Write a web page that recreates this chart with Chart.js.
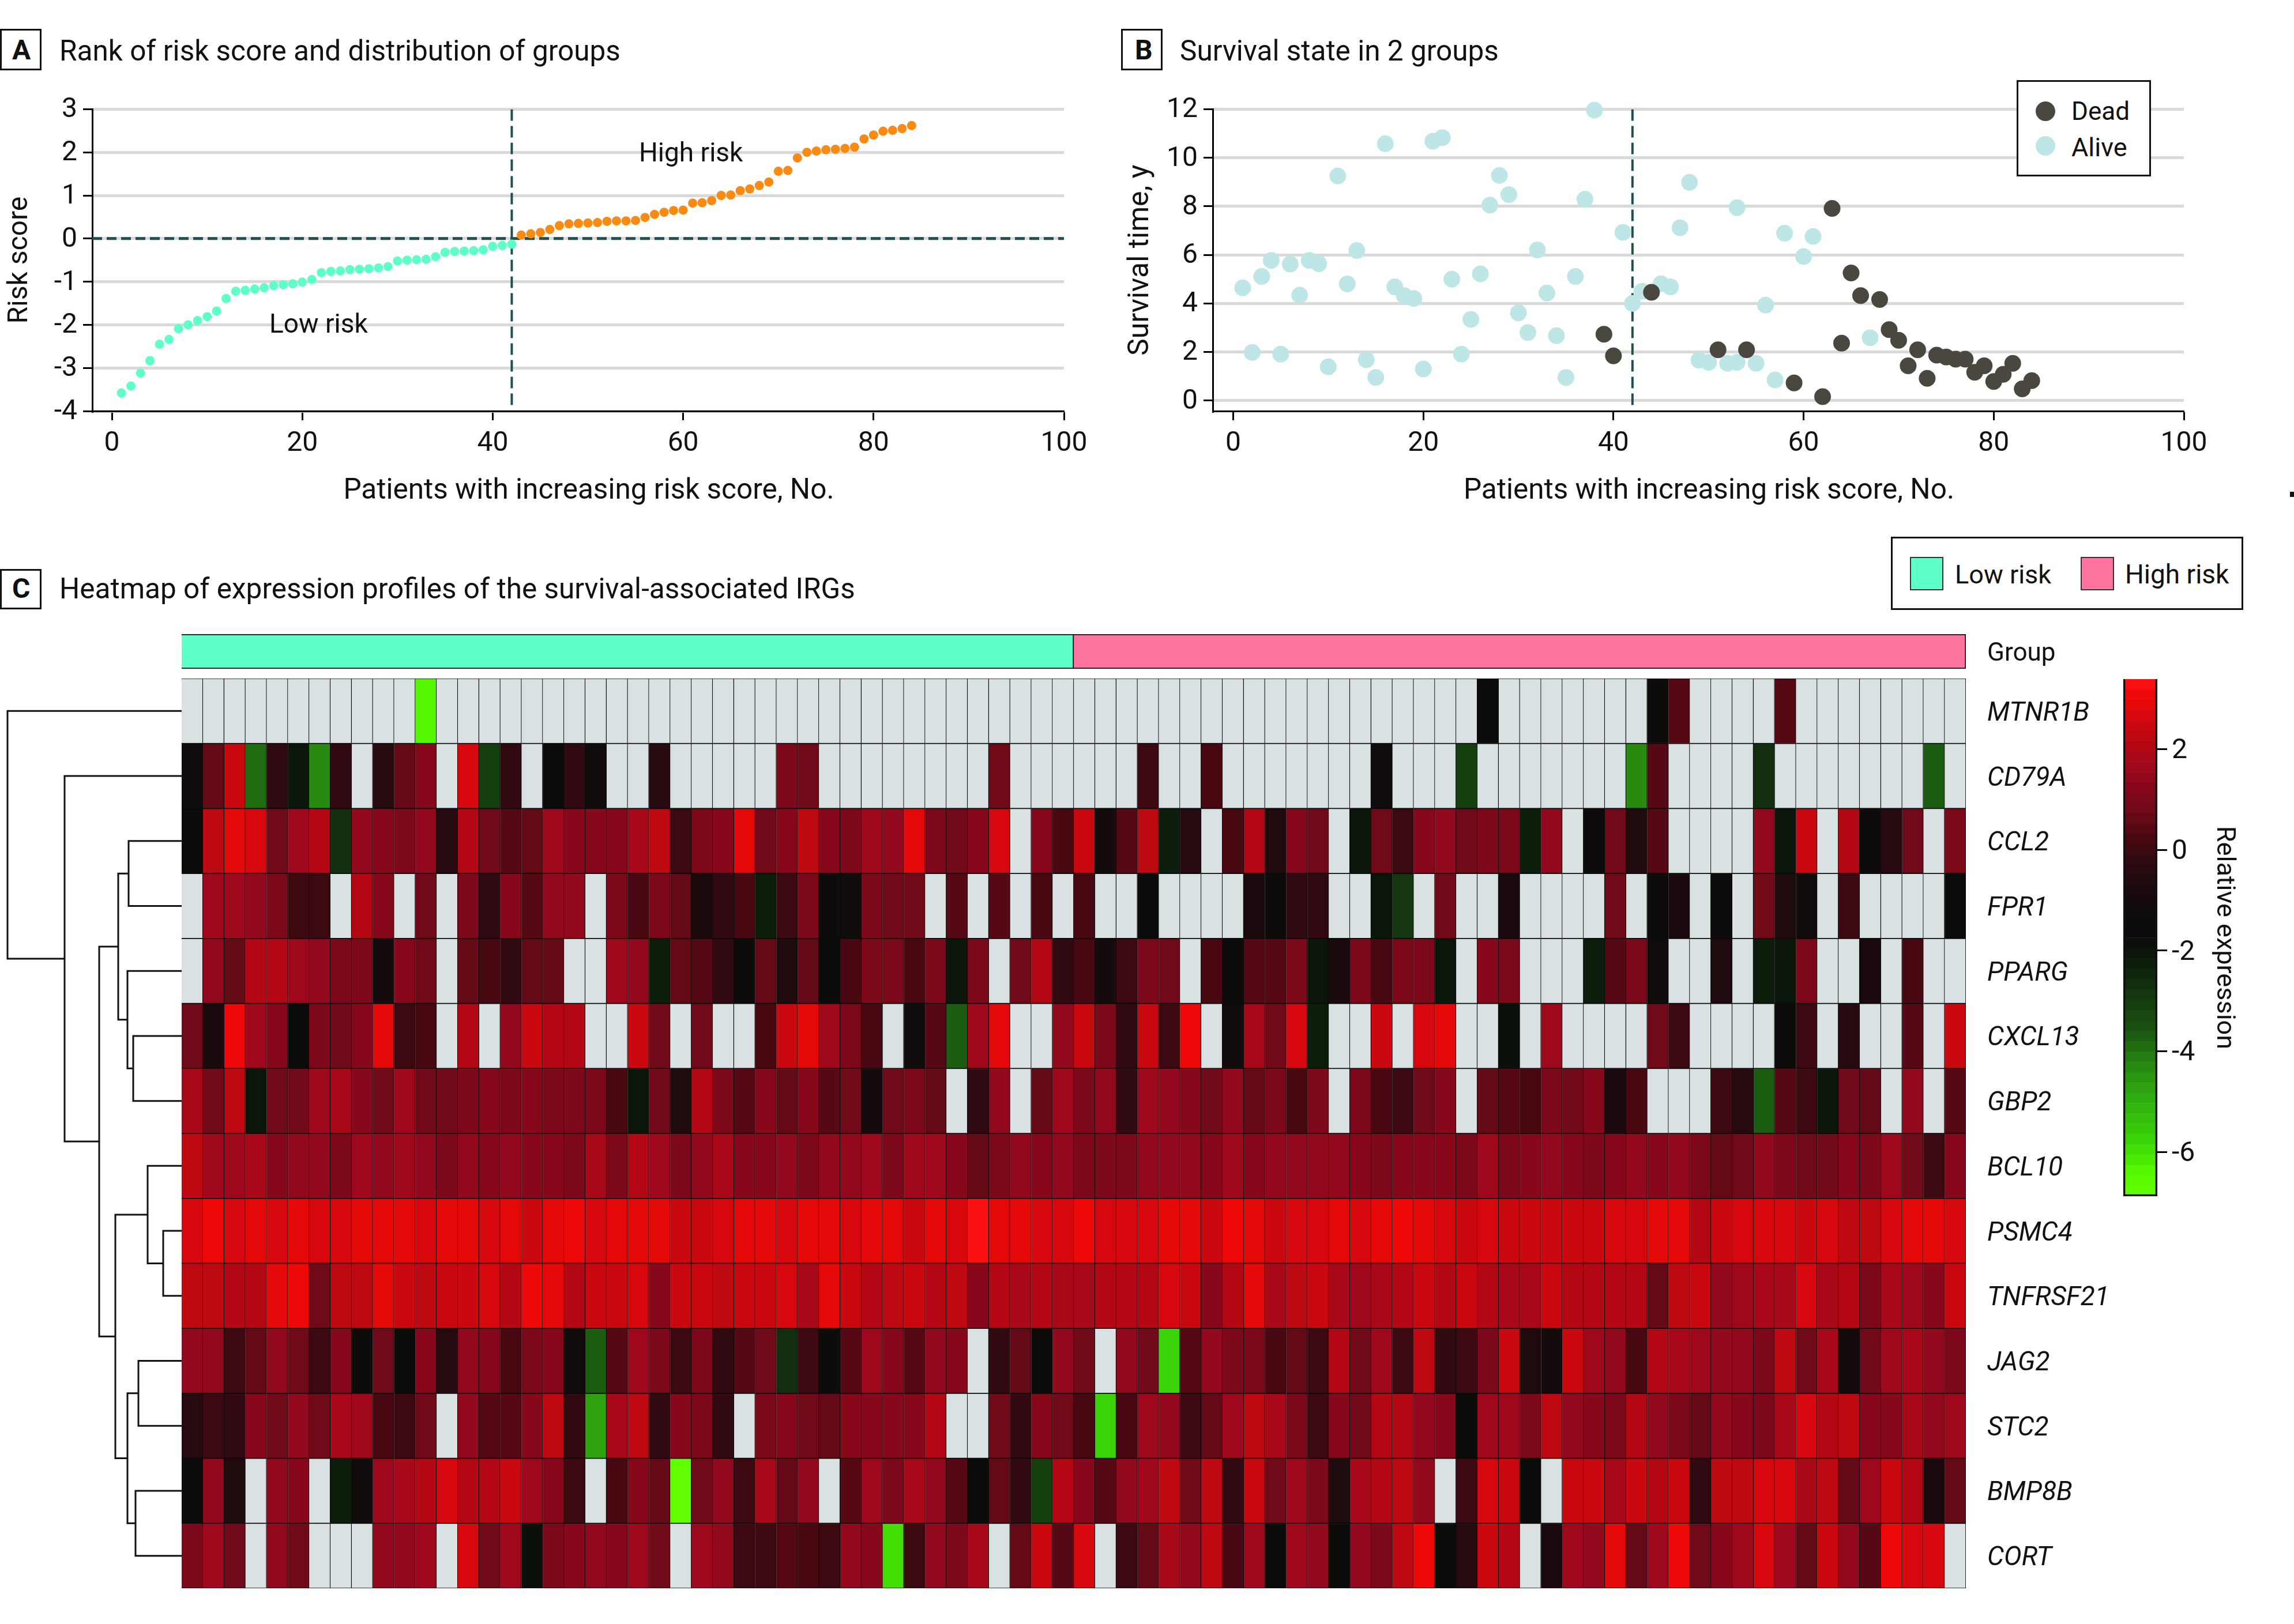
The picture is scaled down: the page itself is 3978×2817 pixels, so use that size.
<!DOCTYPE html>
<html><head><meta charset="utf-8">
<script src="https://cdn.jsdelivr.net/npm/chart.js@4"></script>
<style>
html,body{margin:0;padding:0;background:#fff}
#page{position:relative;width:3978px;height:2817px;overflow:hidden;background:#fff}
canvas{position:absolute}
.t{position:absolute;white-space:nowrap;color:#111;transform:translateY(-50%);line-height:1}
.box{position:absolute;border:3px solid #111;box-sizing:border-box;background:#fff}
</style></head><body><div id="page"></div>
<script>
const N=null;
const riskScores=[-3.58,-3.42,-3.12,-2.83,-2.45,-2.34,-2.09,-2.0,-1.9,-1.81,-1.68,-1.39,-1.22,-1.2,-1.17,-1.14,-1.09,-1.07,-1.05,-1.01,-0.95,-0.79,-0.76,-0.75,-0.72,-0.71,-0.7,-0.68,-0.65,-0.52,-0.5,-0.49,-0.48,-0.42,-0.32,-0.3,-0.29,-0.28,-0.26,-0.18,-0.16,-0.13,0.08,0.11,0.14,0.21,0.3,0.34,0.35,0.36,0.37,0.4,0.41,0.41,0.42,0.49,0.56,0.61,0.65,0.66,0.82,0.83,0.88,1.0,1.01,1.11,1.15,1.23,1.31,1.56,1.58,1.87,2.0,2.03,2.06,2.07,2.09,2.12,2.31,2.4,2.49,2.51,2.55,2.62];
const lowCount=42;
const aliveIdx=[1,2,3,4,5,6,7,8,9,10,11,12,13,14,15,16,17,18,19,20,21,22,23,24,25,26,27,28,29,30,31,32,33,34,35,36,37,38,41,42,43,45,46,47,48,49,50,52,53,53,55,56,57,58,60,61,67];
const aliveYears=[4.64,1.98,5.11,5.77,1.91,5.62,4.34,5.77,5.63,1.39,9.25,4.8,6.18,1.68,0.95,10.58,4.68,4.32,4.2,1.3,10.68,10.83,5.0,1.91,3.34,5.22,8.05,9.27,8.48,3.61,2.8,6.2,4.43,2.67,0.95,5.11,8.29,11.96,6.93,4.0,4.5,4.81,4.68,7.12,8.99,1.66,1.57,1.53,7.94,1.57,1.53,3.93,0.85,6.89,5.93,6.76,2.59];
const deadIdx=[39,40,44,51,54,59,62,63,64,65,66,68,69,70,71,72,73,74,75,76,77,78,79,80,81,82,83,84];
const deadYears=[2.73,1.84,4.46,2.09,2.09,0.72,0.16,7.91,2.36,5.25,4.32,4.16,2.92,2.48,1.43,2.09,0.91,1.87,1.79,1.7,1.7,1.16,1.43,0.78,1.08,1.53,0.48,0.82];
const cutoffPatient=42;
const xAxisTicks=[0,20,40,60,80,100];
const genes=['MTNR1B','CD79A','CCL2','FPR1','PPARG','CXCL13','GBP2','BCL10','PSMC4','TNFRSF21','JAG2','STC2','BMP8B','CORT'];
const MTNR1B=[N,N,N,N,N,N,N,N,N,N,
N,-6.4,N,N,N,N,N,N,N,N,
N,N,N,N,N,N,N,N,N,N,
N,N,N,N,N,N,N,N,N,N,
N,N,N,N,N,N,N,N,N,N,
N,N,N,N,N,N,N,N,N,N,
N,-1.6,N,N,N,N,N,N,N,-1.5,
0.4,N,N,N,N,0.4,N,N,N,N,
N,N,N,N];
const CD79A=[-1.3,0.7,2.4,-3.9,-0.2,-2.0,-4.4,-0.2,N,-0.5,
0.6,1.3,N,2.6,-3.1,-0.2,N,-1.6,-0.3,-1.3,
N,N,-0.5,N,N,N,N,N,1.1,0.8,
N,N,N,N,N,N,N,N,0.85,N,
N,N,N,N,N,-0.1,N,N,0.3,N,
N,N,N,N,N,N,-1.3,N,N,N,
-3.1,N,N,N,N,N,N,N,-4.4,0.5,
N,N,N,N,-2.6,N,N,N,N,N,
N,N,-3.6,N];
const CCL2=[-1.6,2.3,2.8,2.6,0.9,1.7,2.0,-2.7,1.4,1.2,
1.1,1.4,-0.5,2.0,0.8,0.4,0.7,1.7,1.2,1.3,
1.2,1.8,2.3,0.1,1.1,1.2,2.8,0.9,1.3,2.3,
1.3,1.1,1.7,1.5,2.8,1.1,0.9,1.2,2.6,N,
1.2,0.3,2.4,-1.0,0.4,2.3,-2.3,-0.5,N,0.3,
2.1,-0.7,1.2,0.8,N,-2.0,0.8,0.1,1.2,1.5,
0.8,1.0,1.0,-2.2,1.5,N,-1.5,0.8,-0.6,0.5,
N,N,N,N,1.4,-2.0,2.4,N,2.0,-1.5,
-0.5,0.8,N,1.0];
const FPR1=[N,1.6,1.7,1.5,1.0,0.1,0.1,N,2.0,1.3,
N,0.8,N,1.1,-0.2,1.2,0.4,1.5,1.5,N,
1.1,0.3,1.0,0.7,-0.8,-0.2,0.3,-2.3,0.1,1.1,
-1.5,-1.3,1.1,0.8,0.8,N,0.4,N,0.5,N,
0.3,N,0.3,N,N,-1.7,N,N,N,N,
-0.8,-1.5,-0.3,-0.3,N,N,-2.0,-2.8,N,0.8,
N,N,-0.9,N,N,N,N,0.8,N,-1.5,
-0.8,N,-1.6,N,0.8,-0.6,-1.3,N,0.1,N,
N,N,N,-1.6];
const PPARG=[N,1.4,0.7,2.0,2.0,1.6,1.4,1.1,1.0,-1.0,
1.3,0.9,N,0.7,0.3,-0.3,0.7,0.7,N,N,
1.6,1.4,-2.3,0.7,0.5,-0.3,-1.4,0.7,-0.6,0.7,
-1.7,0.3,1.1,1.0,0.2,1.0,-2.0,1.0,N,0.8,
2.0,-0.2,0.3,-1.0,-0.1,1.0,0.8,N,0.3,-1.5,
0.4,0.5,1.0,-2.0,-0.8,1.0,0.3,1.0,1.0,-2.0,
N,1.2,1.1,N,N,N,-2.2,0.5,1.0,-1.2,
N,N,-0.7,N,-2.2,-2.1,1.0,N,N,-0.9,
N,0.3,N,N];
const CXCL13=[0.9,-0.8,3.0,1.7,1.2,-1.6,1.0,0.9,1.2,2.8,
0.1,0.2,N,2.1,N,1.5,2.4,2.0,2.0,N,
N,2.4,0.8,N,0.8,N,N,0.3,2.4,2.8,
1.7,1.0,0.2,N,-1.2,0.5,-3.7,1.7,2.8,N,
N,1.4,2.4,1.0,-0.2,2.4,-0.1,3.1,N,-1.3,
1.8,0.9,2.6,-2.3,N,N,2.4,N,2.6,2.8,
N,N,-1.9,N,1.7,N,N,N,N,0.9,
0.1,N,N,N,N,-1.5,0.1,N,-0.5,N,
N,0.5,N,2.4];
const GBP2=[1.9,0.9,2.3,-2.0,0.8,0.8,1.7,1.9,1.3,0.9,
1.6,0.9,0.9,1.1,1.2,1.1,1.2,1.0,1.0,1.0,
0.3,-2.0,0.8,-0.6,2.0,1.0,0.5,1.2,0.6,1.2,
0.5,0.8,-1.1,0.8,1.1,0.6,N,-0.3,1.4,N,
0.7,1.7,1.1,1.4,-0.2,1.7,1.4,1.3,0.9,1.4,
0.7,1.0,0.3,1.0,N,1.1,0.3,0.1,0.9,1.3,
N,0.7,0.4,0.3,1.0,0.8,1.3,-0.9,0.3,N,
N,N,0.1,-0.4,-3.7,0.4,0.1,-2.0,0.8,0.6,
N,1.5,N,0.4];
const BCL10=[2.3,1.6,1.7,1.9,1.3,1.5,1.5,1.0,1.7,1.5,
1.7,1.5,1.1,1.5,1.2,1.4,1.2,1.2,1.1,1.9,
1.0,2.0,1.6,1.0,1.5,1.9,1.2,1.3,1.5,1.1,
1.5,1.4,1.6,1.1,1.6,1.7,1.2,0.6,1.1,1.4,
1.3,1.4,1.1,1.0,1.1,1.4,1.5,1.4,1.2,1.7,
1.3,1.4,1.5,1.4,1.5,1.2,1.0,1.2,1.2,1.2,
1.0,1.7,1.1,1.3,1.5,1.3,1.1,1.3,1.5,1.3,
1.4,1.1,0.6,0.9,1.4,1.1,0.9,0.9,1.2,1.1,
1.7,0.8,0.1,1.2];
const PSMC4=[2.6,3.1,2.6,2.8,2.6,2.8,2.6,2.6,2.8,2.8,
2.8,2.7,2.8,2.8,2.6,2.8,2.4,2.8,3.1,2.6,
2.8,2.9,2.9,2.4,2.4,2.6,2.8,2.8,2.6,2.8,
2.8,2.6,2.8,2.8,2.4,2.8,2.7,3.3,2.9,2.9,
2.6,2.7,3.1,2.6,2.6,2.6,2.8,2.8,2.4,3.1,
2.8,2.4,2.6,2.6,2.8,2.6,2.8,3.1,2.8,2.6,
2.4,2.6,2.4,2.4,2.5,2.4,2.4,2.6,2.6,2.9,
2.9,2.1,2.4,2.6,2.6,2.6,2.4,2.6,2.3,2.2,
2.6,2.9,2.9,2.6];
const TNFRSF21=[2.3,2.3,2.1,2.1,2.8,3.1,0.9,2.3,2.3,2.8,
2.4,2.3,2.5,2.4,2.6,2.0,3.1,2.8,2.0,2.4,
2.5,2.6,1.3,2.5,2.4,2.3,2.4,2.4,2.6,1.9,
2.8,2.5,2.1,2.3,2.4,2.1,2.3,1.2,2.0,1.8,
2.0,1.8,1.8,2.0,2.0,2.0,2.6,2.5,1.3,2.0,
2.8,1.9,2.3,2.4,1.8,1.7,1.8,2.0,2.4,2.1,
2.4,2.0,1.8,1.8,2.5,2.0,2.1,2.0,2.1,0.7,
2.2,2.4,1.4,1.7,1.8,1.9,2.6,1.8,2.1,1.1,
1.9,1.7,1.2,2.4];
const JAG2=[1.5,1.4,0.1,0.6,1.5,0.9,0.1,1.2,-1.4,0.8,
-1.6,1.2,-0.4,1.5,1.2,0.3,1.0,1.2,-1.3,-3.7,
0.4,1.7,1.0,0.1,1.0,-0.3,0.4,0.8,-2.7,0.0,
-1.5,0.4,1.7,1.2,0.5,1.4,1.3,N,-0.3,0.6,
-1.4,1.4,0.8,N,1.5,0.9,-5.7,0.4,1.4,1.1,
1.0,0.2,0.6,0.1,2.0,0.8,1.7,0.0,2.3,-0.2,
0.1,1.1,2.4,-0.6,-1.1,2.5,1.6,1.5,0.2,2.0,
1.9,1.7,1.4,1.4,1.1,2.3,0.9,1.8,-1.1,0.8,
1.7,1.9,1.4,1.0];
const STC2=[-0.4,0.0,-0.2,1.2,0.9,1.4,0.9,1.9,1.6,0.2,
0.0,0.8,N,1.5,0.4,0.4,1.3,2.3,-0.3,-4.7,
1.9,2.2,-0.3,1.3,1.0,-0.2,N,1.0,1.2,0.9,
0.7,1.2,1.2,1.2,1.2,2.0,N,N,0.9,-0.3,
1.3,0.9,0.3,-5.7,0.3,1.7,1.4,0.0,0.7,1.7,
2.3,1.8,1.0,0.1,1.2,0.8,2.0,2.1,1.4,1.3,
-1.7,1.7,1.7,1.1,2.3,1.4,1.2,1.1,2.0,1.4,
1.1,0.7,1.4,1.3,1.1,1.9,2.6,2.0,2.2,1.3,
1.2,1.9,1.5,1.7];
const BMP8B=[-1.5,1.5,-0.6,N,1.5,1.2,N,-2.3,-1.2,1.7,
1.9,2.0,2.6,2.1,2.1,2.4,1.7,1.2,0.0,N,
0.3,1.2,0.7,-6.8,0.9,1.5,0.1,1.8,0.7,1.5,
N,0.4,1.7,1.0,1.9,1.4,0.5,-1.7,0.6,-0.3,
-3.1,2.0,1.2,0.5,1.4,1.7,2.3,0.9,2.3,-0.2,
2.4,0.9,1.7,1.1,-0.6,1.9,2.0,2.3,1.5,N,
0.0,2.6,2.4,-1.7,N,2.5,2.5,1.9,2.5,2.0,
2.5,-0.2,2.3,2.3,2.7,2.6,1.8,2.3,0.7,1.7,
2.5,2.0,-0.8,0.7];
const CORT=[1.1,1.7,0.9,N,1.5,0.9,N,N,N,1.5,
1.5,1.7,N,2.6,0.9,1.7,-1.9,1.1,1.2,1.5,
1.2,1.7,0.9,N,1.7,1.5,0.0,0.1,0.4,0.2,
0.0,1.4,1.2,-5.9,0.1,1.4,1.1,1.9,N,0.6,
2.4,0.4,2.6,N,0.0,0.6,1.9,1.5,2.3,0.2,
1.7,-1.7,1.7,1.4,-1.4,1.4,1.0,2.3,3.1,-1.7,
-0.5,2.4,2.1,N,-0.8,1.7,1.5,2.8,0.7,1.7,
3.1,0.9,1.2,1.7,2.7,1.7,0.7,2.4,1.5,0.4,
3.1,2.7,2.6,N];
const expression=[MTNR1B,CD79A,CCL2,FPR1,PPARG,CXCL13,GBP2,BCL10,PSMC4,TNFRSF21,JAG2,STC2,BMP8B,CORT];
// clustering: children (negative = leaf row, positive = earlier merge) and height
const mergeA=[-9,-6,-3,-13,-11,-8,-5,5,3,6,9,-2,-1];
const mergeB=[-10,-7,-4,-14,-12,1,2,4,7,8,10,11,12];
const mergeH=[32,84,92,80,75,59,94,94,110,115,143,203,302];
const colorMin=-6.88, colorMax=3.39, colorSteps=50;
const colorTicks=[2,0,-2,-4,-6];
const stopV=[-6.88,-6.4,-5.7,-5.0,-4.4,-4.0,-3.6,-2.8,-2.2,-1.7,-1.3,-0.9,-0.5,-0.2,0.2,0.5,0.8,1.1,1.4,1.7,2.0,2.3,2.6,2.8,3.1,3.39];
const stopC=['#66ff00','#55f800','#38d008','#30b010','#2a9010','#227410','#1a5410','#143410','#0c1a0c','#0a0c0a','#100c0c','#180a0e','#220a0e','#300a10','#480812','#5c0a16','#700a18','#80081a','#90081c','#a2081c','#b00814','#c00812','#d0080f','#e00808','#f00808','#ff1414'];

const FONT='Roboto';
const TEXT='#111';
const NA_COLOR='#d9e1e3', LOW='#5fffc8', HIGH='#ff739f', LOW_PT='#5fffc8', HIGH_PT='#f98a13', DEAD='#4a473f', ALIVE='#bfe6e6', DASH='#1f4f52', GRID='#d9d9d9';
Chart.defaults.animation=false;
Chart.defaults.responsive=false;
Chart.defaults.font.family=FONT;
Chart.defaults.color=TEXT;
Chart.defaults.plugins.legend.display=false;
Chart.defaults.plugins.tooltip.enabled=false;
const page=document.getElementById('page');
function mount(l,t,w,h){const c=document.createElement('canvas');c.width=w;c.height=h;c.style.left=l+'px';c.style.top=t+'px';c.style.width=w+'px';c.style.height=h+'px';page.appendChild(c);return c.getContext('2d');}
function txt(s,x,y,size,o={}){const d=document.createElement('div');d.className='t';d.textContent=s;d.style.left=x+'px';d.style.top=y+'px';d.style.fontSize=size+'px';d.style.fontFamily=FONT;Object.assign(d.style,o);page.appendChild(d);return d;}
function box(l,t,w,h,o={}){const d=document.createElement('div');d.className='box';d.style.left=l+'px';d.style.top=t+'px';d.style.width=w+'px';d.style.height=h+'px';Object.assign(d.style,o);page.appendChild(d);return d;}
function hex(c){return [1,3,5].map(i=>parseInt(c.substr(i,2),16));}
function valueColor(v){
  if(v===null) return NA_COLOR;
  const step=(colorMax-colorMin)/colorSteps;
  const k=Math.min(colorSteps-1,Math.max(0,Math.floor((v-colorMin)/step)));
  const m=colorMin+(k+0.5)*step;
  let i=0; while(i<stopV.length-2&&m>stopV[i+1]) i++;
  const f=Math.min(1,Math.max(0,(m-stopV[i])/(stopV[i+1]-stopV[i])));
  const a=hex(stopC[i]),b=hex(stopC[i+1]);
  return 'rgb('+a.map((q,j)=>Math.round(q+(b[j]-q)*f)).join(',')+')';
}
const fitRight=w=>s=>{s.width=w;s.paddingTop=0;s.paddingBottom=0;};
const tickFont={size:48,family:FONT}, titleFont={size:49.5,family:FONT};
function xScale(minX,title,h){return {type:'linear',min:minX,max:100,afterFit:s=>{s.height=h},
  afterBuildTicks:s=>{s.ticks=xAxisTicks.map(v=>({value:v}))},
  border:{color:'#000',width:3},grid:{drawOnChartArea:false,tickColor:'#000',tickWidth:3,tickLength:16},
  ticks:{font:tickFont,padding:12,maxRotation:0,autoSkip:false},
  title:{display:true,text:title,font:titleFont,padding:{top:0,bottom:18}}};}
function yScale(minY,maxY,step,title,w,titlePad,titleSize){const vals=[];for(let v=maxY;v>=Math.ceil(minY);v-=step)vals.push(v);
  return {type:'linear',min:minY,max:maxY,afterFit:s=>{s.width=w},afterBuildTicks:s=>{s.ticks=vals.slice().reverse().map(v=>({value:v}))},
  border:{color:'#000',width:3},grid:{color:GRID,lineWidth:5,tickColor:'#000',tickWidth:3,tickLength:16},
  ticks:{font:tickFont,padding:10,autoSkip:false,labelOffset:2},
  title:{display:true,text:title,font:{size:titleSize,family:FONT},padding:{top:titlePad,bottom:0}}};}
function dashLine(pts,lw,dash){return {type:'scatter',showLine:true,data:pts,borderColor:DASH,borderWidth:lw,borderDash:dash,pointRadius:0,fill:false,tension:0};}
const NB='\u00a0\u00a0\u00a0';

// Panel A
new Chart(mount(0,100,1900,800),{type:'scatter',
 data:{datasets:[
  {label:'Low risk',data:riskScores.slice(0,lowCount).map((y,i)=>({x:i+1,y})),backgroundColor:LOW_PT,borderWidth:0,pointRadius:8,clip:false},
  {label:'High risk',data:riskScores.slice(lowCount).map((y,i)=>({x:i+1+lowCount,y})),backgroundColor:HIGH_PT,borderWidth:0,pointRadius:8,clip:false},
  dashLine([{x:cutoffPatient,y:3},{x:cutoffPatient,y:-3.9}],4,[20,9]),
  dashLine([{x:-2.06,y:0},{x:100,y:0}],5,[17,8])
 ]},
 options:{layout:{autoPadding:false,padding:{top:89.4,right:55,left:0,bottom:0}},
  scales:{x:xScale(-2.06,NB+'Patients with increasing risk score, No.',187),y:yScale(-4,3,1,'Risk score',160,6,48)}}});
// Panel B
new Chart(mount(1940,100,1900,800),{type:'scatter',
 data:{datasets:[
  {label:'Dead',data:deadIdx.map((x,i)=>({x,y:deadYears[i]})),backgroundColor:DEAD,borderWidth:0,pointRadius:14.5,clip:false},
  {label:'Alive',data:aliveIdx.map((x,i)=>({x,y:aliveYears[i]})),backgroundColor:ALIVE,borderWidth:0,pointRadius:14.5,clip:false},
  dashLine([{x:cutoffPatient,y:12},{x:cutoffPatient,y:-0.3}],4,[20,9])
 ]},
 options:{layout:{autoPadding:false,padding:{top:89.4,right:53,left:0,bottom:0}},
  scales:{x:xScale(-2.15,NB+'Patients with increasing risk score, No.',187),y:yScale(-0.435,12,2,'Survival time, y',163,8,50)}}});
// Group bar
new Chart(mount(315,1100,3365,60),{type:'bar',
 data:{labels:['Group'],datasets:[
  {label:'Low risk',data:[[0,lowCount]],backgroundColor:LOW,borderColor:'#111',borderWidth:2,grouped:false,barPercentage:1,categoryPercentage:1},
  {label:'High risk',data:[[lowCount,84]],backgroundColor:HIGH,borderColor:'#111',borderWidth:2,grouped:false,barPercentage:1,categoryPercentage:1}]},
 options:{indexAxis:'y',layout:{autoPadding:false,padding:0},scales:{
  x:{type:'linear',display:false,min:0,max:84},
  y:{position:'right',afterFit:fitRight(271),grid:{display:false,drawTicks:false},border:{display:false},ticks:{font:{size:44,family:FONT},padding:37,labelOffset:5}}}}});
// Heatmap
const patients=Array.from({length:84},(_,i)=>i);
new Chart(mount(315,1177,3365,1578),{type:'bar',
 data:{labels:genes,datasets:patients.map(i=>({label:'P'+(i+1),data:genes.map(()=>[i,i+1]),backgroundColor:expression.map(r=>valueColor(r[i])),borderColor:'#0a0a0a',borderWidth:1.2,grouped:false,barPercentage:1,categoryPercentage:1}))},
 options:{indexAxis:'y',layout:{autoPadding:false,padding:0},scales:{
  x:{type:'linear',display:false,min:0,max:84},
  y:{position:'right',afterFit:fitRight(271),grid:{display:false,drawTicks:false},border:{display:false},ticks:{font:{size:46,style:'italic',family:FONT},padding:37,autoSkip:false,labelOffset:5}}}}});
// Dendrogram
(function(){
 const yOf=c=>c<0?{y:-c-0.5,h:0}:nodes[c-1];
 const nodes=[];const sets=[];
 mergeA.forEach((a,i)=>{const A=yOf(a),B=yOf(mergeB[i]),h=mergeH[i];
  sets.push({type:'scatter',showLine:true,data:[{x:A.h,y:A.y},{x:h,y:A.y},{x:h,y:B.y},{x:B.h,y:B.y}],borderColor:'#111',borderWidth:3,pointRadius:0,tension:0,clip:false});
  nodes.push({y:(A.y+B.y)/2,h});});
 new Chart(mount(0,1177,315,1578),{type:'scatter',data:{datasets:sets},options:{layout:{autoPadding:false,padding:0},scales:{
  x:{type:'linear',display:false,min:0,max:315,reverse:true},y:{type:'linear',display:false,min:0,max:14,reverse:true}}}});
})();
// Colour bar
(function(){
 const step=(colorMax-colorMin)/colorSteps;const ds=[];
 ds.push({label:'frame',data:[[colorMin,colorMax]],backgroundColor:'rgba(0,0,0,0)',borderColor:'#111',borderWidth:3,grouped:false,barPercentage:1,categoryPercentage:1});
 for(let k=0;k<colorSteps;k++){const lo=colorMin+k*step;ds.push({label:'c'+k,data:[[lo,lo+step]],backgroundColor:valueColor(lo+step/2),borderWidth:0,grouped:false,barPercentage:1,categoryPercentage:1});}
 new Chart(mount(3682,1178,296,897),{type:'bar',data:{labels:[''],datasets:ds},options:{layout:{autoPadding:false,padding:0},scales:{
  x:{display:false},
  y:{position:'right',min:colorMin,max:colorMax,afterFit:fitRight(237),afterBuildTicks:s=>{s.ticks=colorTicks.slice().reverse().map(v=>({value:v}))},
   border:{display:false},grid:{drawOnChartArea:false,tickColor:'#000',tickWidth:3,tickLength:17},ticks:{font:{size:48,family:FONT},padding:8,autoSkip:false,labelOffset:4},
   title:{display:true,text:'Relative expression',font:{size:45,family:FONT},padding:{top:95,bottom:0}}}}}});
})();
// Panel labels, annotations, legends
box(0,50,72,72);txt('A',21,87,48,{fontWeight:'700'});
txt('Rank of risk score and distribution of groups',103,89,49.5);
box(1944,50,72,72);txt('B',1968,87,48,{fontWeight:'700'});
txt('Survival state in 2 groups',2046,89,49.5);
box(0,987,72,70);txt('C',21,1021,48,{fontWeight:'700'});
txt('Heatmap of expression profiles of the survival-associated IRGs',103,1022,49.5);
txt('High risk',1108,264,46);
txt('Low risk',467,561,46);
box(3497,139,233,167);
const dot=(x,y,c)=>{const d=document.createElement('div');d.style.cssText=`position:absolute;left:${x-17}px;top:${y-17}px;width:34px;height:34px;border-radius:50%;background:${c}`;page.appendChild(d);};
dot(3547,193,DEAD);dot(3547,253,ALIVE);
txt('Dead',3592,193,44);txt('Alive',3592,255,45);
box(3279,931,611,127);
box(3312,966,58,58,{background:LOW,border:'2px solid #333'});txt('Low risk',3390,996,45);
box(3608,966,58,58,{background:HIGH,border:'2px solid #333'});txt('High risk',3685,996,46);
const sp=document.createElement('div');sp.style.cssText='position:absolute;left:3971px;top:853px;width:7px;height:9px;background:#111';page.appendChild(sp);
</script></body></html>
